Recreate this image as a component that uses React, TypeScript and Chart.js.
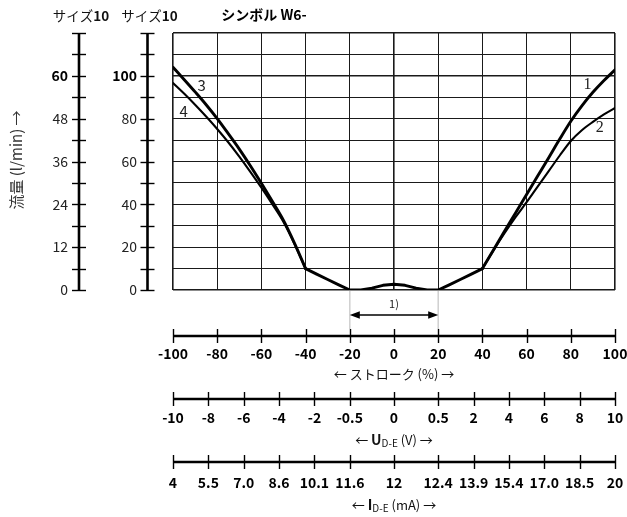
import { useEffect, useRef } from 'react';
import { Chart, registerables } from 'chart.js';

Chart.register(...registerables);

// ---- data ----
const strokeTicks = [-100, -80, -60, -40, -20, 0, 20, 40, 60, 80, 100];
const signalTickStroke = [-100, -84, -68, -52, -36, -20, 0, 20, 36, 52, 68, 84, 100];
const voltageLabels = ['-10', '-8', '-6', '-4', '-2', '-0.5', '0', '0.5', '2', '4', '6', '8', '10'];
const currentLabels = ['4', '5.5', '7.0', '8.6', '10.1', '11.6', '12', '12.4', '13.9', '15.4', '17.0', '18.5', '20'];
const flowLabelsLmin = [0, 12, 24, 36, 48, 60];
const flowLabelsPct = [0, 20, 40, 60, 80, 100];
const FLOW_MAX_LMIN = 60;

// curve 3 (upper left, thick)
const curve3: [number, number][] = [
  [-100, 104], [-95, 98.3], [-90, 92.5], [-85, 86.5], [-80, 80], [-75, 73], [-70, 65.8],
  [-65, 58], [-60, 49.8], [-55, 41.3], [-50, 32.5], [-45, 21.8], [-40, 10],
];
// curve 4 (lower left, thin)
const curve4: [number, number][] = [
  [-100, 96.6], [-95, 91.7], [-90, 86.5], [-85, 81], [-80, 75.2], [-75, 69], [-70, 62.3],
  [-65, 55.2], [-60, 47.8], [-55, 40], [-50, 31.8], [-45, 21.5], [-40, 10],
];
// shared bottom part
const bottomCurve: [number, number][] = [
  [-40, 10], [-35, 7.4], [-30, 4.9], [-25, 2.4], [-20, 0], [-15, 0], [-10, 0.9], [-5, 2.2],
  [0, 2.7], [5, 2.2], [10, 0.9], [15, 0], [20, 0], [25, 2.4], [30, 4.9], [35, 7.4], [40, 10],
];
// curve 1 (upper right, thick)
const curve1: [number, number][] = [
  [40, 10], [45, 18.7], [50, 27.4], [55, 36], [60, 44.6], [65, 53.2], [70, 61.8],
  [75, 70.5], [80, 78.8], [85, 86], [90, 92.3], [95, 97.8], [100, 102.8],
];
// curve 2 (lower right, thin)
const curve2: [number, number][] = [
  [40, 10], [45, 18.5], [50, 26.5], [55, 34], [60, 41], [65, 48.3], [70, 55.5],
  [75, 62.8], [80, 69.6], [85, 74.6], [90, 78.5], [95, 82], [100, 85],
];
const curveLabels: { text: string; x: number; y: number; serif: boolean }[] = [
  { text: '1', x: 87.6, y: 95.8, serif: true },
  { text: '2', x: 93.1, y: 75.7, serif: true },
  { text: '3', x: -87, y: 95.8, serif: false },
  { text: '4', x: -95.2, y: 83.6, serif: false },
];

const FONT = '"Noto Sans CJK JP", "Noto Sans", sans-serif';

type Run = { text: string; font: string; dy?: number };

function drawRuns(ctx: CanvasRenderingContext2D, runs: Run[], cx: number, cy: number) {
  let total = 0;
  for (const r of runs) {
    ctx.font = r.font;
    total += ctx.measureText(r.text).width;
  }
  let xx = cx - total / 2;
  ctx.textAlign = 'left';
  for (const r of runs) {
    ctx.font = r.font;
    ctx.fillText(r.text, xx, cy + (r.dy || 0));
    xx += ctx.measureText(r.text).width;
  }
}

const toXY = (arr: [number, number][]) => arr.map(([x, y]) => ({ x, y }));

const decorPlugin = {
  id: 'decor',
  afterDraw(chart: any) {
    const ctx: CanvasRenderingContext2D = chart.ctx;
    const xs = chart.scales.x;
    const ys = chart.scales.y;
    const yTop = ys.getPixelForValue(120);
    const yBot = ys.getPixelForValue(0);
    const xL = xs.getPixelForValue(-100);
    const xR = xs.getPixelForValue(100);
    ctx.save();
    ctx.textBaseline = 'middle';
    ctx.lineCap = 'butt';

    // ---- left axes ----
    const leftAxes = [
      { ax: 79, labels: flowLabelsLmin, factor: 100 / FLOW_MAX_LMIN, bold: 60, lx: 68 },
      { ax: 147.5, labels: flowLabelsPct, factor: 1, bold: 100, lx: 137 },
    ];
    for (const a of leftAxes) {
      ctx.strokeStyle = '#000';
      ctx.lineWidth = 2.6;
      ctx.beginPath();
      ctx.moveTo(a.ax, yTop);
      ctx.lineTo(a.ax, yBot);
      ctx.stroke();
      ctx.lineWidth = 1.4;
      for (let v = 0; v <= 120; v += 10) {
        const py = Math.round(ys.getPixelForValue(v)) + 0.5;
        ctx.beginPath();
        ctx.moveTo(a.ax - 7, py);
        ctx.lineTo(a.ax + 7, py);
        ctx.stroke();
      }
      ctx.textAlign = 'right';
      for (const lab of a.labels) {
        const py = ys.getPixelForValue(lab * a.factor);
        const isBold = lab === a.bold;
        ctx.font = (isBold ? 'bold ' : '') + '14px ' + FONT;
        ctx.fillStyle = isBold ? '#000' : '#222';
        ctx.fillText(String(lab), a.lx, py);
      }
      ctx.fillStyle = '#111';
      drawRuns(ctx, [
        { text: 'サイズ', font: '13.5px ' + FONT },
        { text: '10', font: 'bold 13.5px ' + FONT },
      ], a.ax + 2, 16);
    }
    ctx.fillStyle = '#000';
    drawRuns(ctx, [{ text: 'シンボル W6-', font: 'bold 14px ' + FONT }], 264, 15);

    // y title
    ctx.save();
    ctx.translate(16, 160);
    ctx.rotate(-Math.PI / 2);
    ctx.fillStyle = '#333';
    drawRuns(ctx, [{ text: '流量 (l/min) →', font: '15px ' + FONT }], 0, 0);
    ctx.restore();

    // ---- "1)" annotation ----
    const xa = xs.getPixelForValue(-20);
    const xb = xs.getPixelForValue(20);
    ctx.strokeStyle = '#cfcfcf';
    ctx.lineWidth = 1.5;
    for (const px of [xa, xb]) {
      ctx.beginPath();
      ctx.moveTo(px, yBot + 1);
      ctx.lineTo(px, 329);
      ctx.stroke();
    }
    const ay = 315;
    ctx.strokeStyle = '#000';
    ctx.fillStyle = '#000';
    ctx.lineWidth = 1.3;
    ctx.beginPath();
    ctx.moveTo(xa + 6, ay);
    ctx.lineTo(xb - 6, ay);
    ctx.stroke();
    for (const [tip, dir] of [[xa, 1], [xb, -1]] as [number, number][]) {
      ctx.beginPath();
      ctx.moveTo(tip, ay);
      ctx.lineTo(tip + dir * 10, ay - 3.8);
      ctx.lineTo(tip + dir * 10, ay + 3.8);
      ctx.closePath();
      ctx.fill();
    }
    ctx.fillStyle = '#222';
    drawRuns(ctx, [{ text: '1)', font: '11px ' + FONT }], xs.getPixelForValue(0), 304);

    // ---- curve labels ----
    ctx.fillStyle = '#222';
    ctx.textAlign = 'center';
    for (const l of curveLabels) {
      ctx.font = l.serif ? '16px "Liberation Serif", serif' : '15px ' + FONT;
      ctx.fillText(l.text, xs.getPixelForValue(l.x), ys.getPixelForValue(l.y));
    }

    // ---- bottom axes ----
    const bottomAxes = [
      { ly: 336, ticks: strokeTicks, labels: strokeTicks.map(String), labY: 354, titleY: 374,
        title: [{ text: '← ストローク (%) →', font: '13px ' + FONT }] as Run[] },
      { ly: 399, ticks: signalTickStroke, labels: voltageLabels, labY: 418, titleY: 440,
        title: [
          { text: '← ', font: '13px ' + FONT },
          { text: 'U', font: 'bold 14px ' + FONT },
          { text: 'D-E', font: '10px ' + FONT, dy: 3 },
          { text: ' (V) →', font: '13px ' + FONT },
        ] as Run[] },
      { ly: 462, ticks: signalTickStroke, labels: currentLabels, labY: 483, titleY: 505,
        title: [
          { text: '← ', font: '13px ' + FONT },
          { text: 'I', font: 'bold 14px ' + FONT },
          { text: 'D-E', font: '10px ' + FONT, dy: 3 },
          { text: ' (mA) →', font: '13px ' + FONT },
        ] as Run[] },
    ];
    for (const b of bottomAxes) {
      ctx.strokeStyle = '#000';
      ctx.lineWidth = 2.6;
      ctx.beginPath();
      ctx.moveTo(xL, b.ly);
      ctx.lineTo(xR, b.ly);
      ctx.stroke();
      ctx.lineWidth = 1.4;
      b.ticks.forEach((t) => {
        const px = Math.round(xs.getPixelForValue(t)) + 0.5;
        ctx.beginPath();
        ctx.moveTo(px, b.ly - 7);
        ctx.lineTo(px, b.ly + 7);
        ctx.stroke();
      });
      ctx.fillStyle = '#000';
      ctx.textAlign = 'center';
      ctx.font = 'bold 14px ' + FONT;
      b.ticks.forEach((t, i) => {
        ctx.fillText(b.labels[i], xs.getPixelForValue(t), b.labY);
      });
      ctx.fillStyle = '#111';
      drawRuns(ctx, b.title, xs.getPixelForValue(0), b.titleY);
    }
    ctx.restore();
  },
};

export default function App() {
  const ref = useRef<HTMLCanvasElement | null>(null);
  useEffect(() => {
    if (!ref.current) return;
    const edgeW = (c: any) => (c.tick && (c.tick.value === 120 || c.tick.value === 0 || Math.abs(c.tick.value) === 100) ? 1.6 : 1);
    const thin = { borderColor: '#000', borderWidth: 2.1, pointRadius: 0, fill: false, cubicInterpolationMode: 'monotone', borderCapStyle: 'round' };
    const thick = { borderColor: '#000', borderWidth: 2.9, pointRadius: 0, fill: false, cubicInterpolationMode: 'monotone', borderCapStyle: 'round', borderJoinStyle: 'round' };
    const chart = new Chart(ref.current, {
      type: 'line',
      data: {
        datasets: [
          { ...thin, data: toXY(curve4) },
          { ...thin, data: toXY(curve2) },
          { ...thick, data: toXY(curve3) },
          { ...thick, data: toXY(bottomCurve), cubicInterpolationMode: 'default', tension: 0 },
          { ...thick, data: toXY(curve1) },
        ],
      },
      options: {
        animation: false,
        responsive: false,
        devicePixelRatio: 1,
        parsing: false as any,
        layout: { padding: { left: 173, right: 12, top: 33, bottom: 227 } },
        plugins: { legend: { display: false }, tooltip: { enabled: false } },
        scales: {
          x: {
            type: 'linear', min: -100, max: 100,
            ticks: { display: false, stepSize: 20 },
            grid: { color: '#1a1a1a', lineWidth: edgeW, drawTicks: false },
            border: { display: false },
          },
          y: {
            type: 'linear', min: 0, max: 120,
            ticks: { display: false, stepSize: 10 },
            grid: { color: '#1a1a1a', lineWidth: edgeW, drawTicks: false },
            border: { display: false },
          },
        },
      },
      plugins: [decorPlugin],
    } as any);
    return () => chart.destroy();
  }, []);
  return (
    <div style={{ position: 'absolute', left: 0, top: 0, width: 627, height: 517, background: '#fff' }}>
      <canvas ref={ref} width={627} height={517} style={{ width: 627, height: 517, display: 'block' }} />
    </div>
  );
}
